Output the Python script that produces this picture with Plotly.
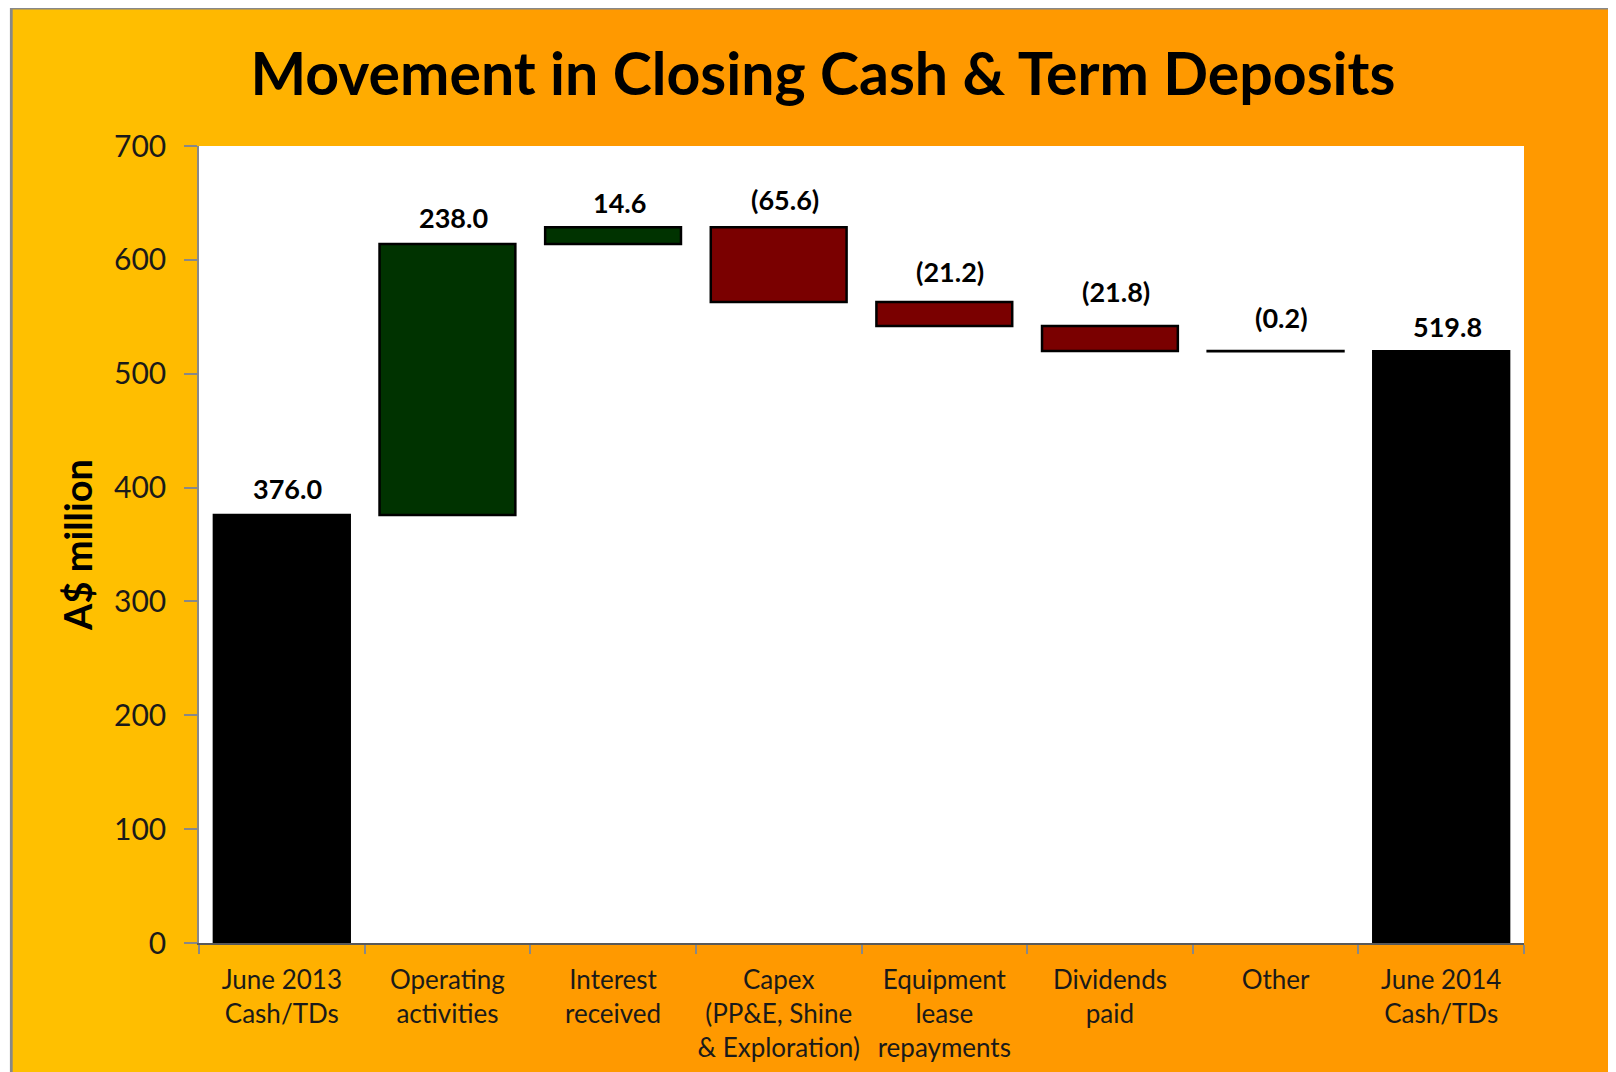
import plotly.graph_objects as go

# ---------------- data ----------------
categories = [
    "June 2013<br>Cash/TDs",
    "Operating<br>activities",
    "Interest<br>received",
    "Capex<br>(PP&E, Shine<br>& Exploration)",
    "Equipment<br>lease<br>repayments",
    "Dividends<br>paid",
    "Other",
    "June 2014<br>Cash/TDs",
]
values = [376.0, 238.0, 14.6, -65.6, -21.2, -21.8, -0.2, 519.8]
measures = ["absolute", "relative", "relative", "relative", "relative", "relative", "relative", "total"]
label_texts = ["376.0", "238.0", "14.6", "(65.6)", "(21.2)", "(21.8)", "(0.2)", "519.8"]
y_ticks = [0, 100, 200, 300, 400, 500, 600, 700]

# label vertical offsets in pixels (style)
label_shift = [8, 8, 6, 9, 12, 16, 15, 6]

# ---------------- layout geometry ----------------
W, H = 1616, 1072
OFF = 8  # page body margin compensation
L, T = 199 - OFF, 146 - OFF
PW, PH = 1325, 797
R, B = W - L - PW, H - T - PH

def px_x(p):
    return (p - L) / PW

def px_y(p):
    return (T + PH - p) / PH

FONT = "Lato"

fig = go.Figure()
fig.add_trace(go.Waterfall(
    x=categories,
    y=values,
    measure=measures,
    increasing=dict(marker=dict(color="#003300", line=dict(color="black", width=2.5))),
    decreasing=dict(marker=dict(color="#7A0000", line=dict(color="black", width=2.5))),
    totals=dict(marker=dict(color="black", line=dict(color="black", width=2.5))),
    connector=dict(visible=False),
    textposition="none",
    hoverinfo="x+y",
))

# labels above each bar (top of bar computed from running total)
running = 0.0
annotations = []
for cat, v, m, t, s in zip(categories, values, measures, label_texts, label_shift):
    if m == "absolute":
        lo, hi = 0, v
        running = v
    elif m == "total":
        lo, hi = 0, running
    else:
        lo, hi = running, running + v
        running += v
    top = max(lo, hi)
    annotations.append(dict(
        x=cat, y=top, xref="x", yref="y", text=f"<b>{t}</b>", showarrow=False,
        yanchor="bottom", yshift=s, xshift=6,
        font=dict(family=FONT, size=27, color="black"),
    ))

# background gradient (yellow -> orange) built from strips
shapes = []
c0 = (0xFF, 0xC0, 0x00)
c1 = (0xFF, 0x99, 0x00)
g_start, g_end = 110 - OFF, 600 - OFF
xs = [3] + list(range(g_start, g_end + 1, 10)) + [W]
for i in range(len(xs) - 1):
    a, b = xs[i], xs[i + 1]
    mid = (a + b) / 2
    f = min(max((mid - g_start) / (g_end - g_start), 0), 1)
    col = "rgb(%d,%d,%d)" % tuple(round(c0[k] + (c1[k] - c0[k]) * f) for k in range(3))
    shapes.append(dict(type="rect", xref="paper", yref="paper", layer="below",
                       x0=px_x(a), x1=px_x(b + 1), y0=px_y(H), y1=px_y(0),
                       line=dict(width=0), fillcolor=col))
# white plot area
shapes.append(dict(type="rect", xref="paper", yref="paper", layer="below",
                   x0=0, x1=1, y0=0, y1=1, line=dict(width=0), fillcolor="white"))
# grey frame lines (left + top)
shapes.append(dict(type="line", xref="paper", yref="paper", layer="above",
                   x0=px_x(3.3), x1=px_x(3.3), y0=px_y(H), y1=px_y(0),
                   line=dict(color="#888888", width=2.8)))
shapes.append(dict(type="line", xref="paper", yref="paper", layer="above",
                   x0=px_x(2), x1=px_x(W), y0=px_y(0), y1=px_y(0),
                   line=dict(color="#888888", width=2.8)))

fig.update_layout(
    width=W, height=H,
    margin=dict(l=L, r=R, t=T, b=B, pad=0, autoexpand=False),
    paper_bgcolor="white",
    plot_bgcolor="white",
    showlegend=False,
    waterfallgap=0.18,
    title=dict(
        text="<b>Movement in Closing Cash & Term Deposits</b>",
        x=(823 - OFF) / W, xref="container", xanchor="center",
        y=1 - (74 - OFF) / H, yref="container", yanchor="middle",
        font=dict(family=FONT, size=59, color="black"),
    ),
    shapes=shapes,
    annotations=annotations,
    xaxis=dict(
        showline=True, linecolor="#595959", linewidth=2,
        ticks="outside", tickson="boundaries", ticklen=9, tickcolor="#888888", tickwidth=1.5,
        tickfont=dict(family=FONT, size=26, color="#1a1a1a"),
        tickangle=0, automargin=False,
        ticklabelstandoff=13,
        showgrid=False, zeroline=False,
    ),
    yaxis=dict(
        range=[0, 700], tickvals=y_ticks, automargin=False,
        showline=True, linecolor="#888888", linewidth=1.5,
        ticks="outside", ticklen=13, tickcolor="#888888", tickwidth=1.5,
        tickfont=dict(family=FONT, size=30, color="#1a1a1a"),
        ticklabelstandoff=12,
        showgrid=False, zeroline=False,
        title=dict(text="<b>A$ million</b>", font=dict(family=FONT, size=38, color="black"), standoff=10),
    ),
)

fig.write_html("out.html")
